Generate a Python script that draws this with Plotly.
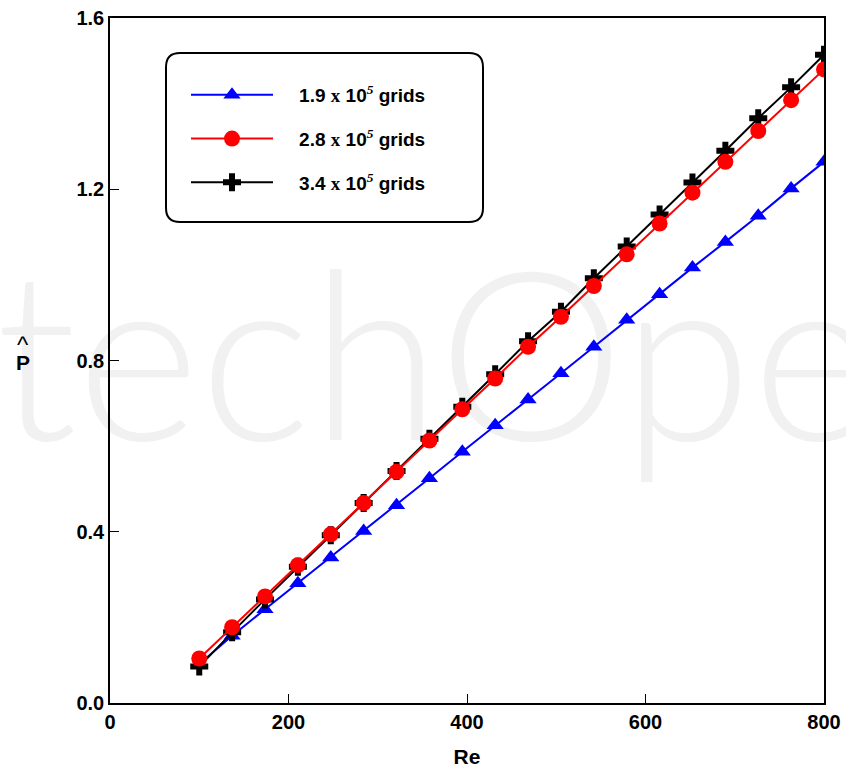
import plotly.graph_objects as go

# ---- data ----
re_vals = [100 + 700 * i / 19 for i in range(20)]
p_19 = [0.091, 0.157, 0.219, 0.280, 0.340, 0.402, 0.462, 0.525, 0.587, 0.649,
        0.709, 0.770, 0.832, 0.895, 0.955, 1.017, 1.077, 1.138, 1.202, 1.264]
p_28 = [0.104, 0.177, 0.249, 0.322, 0.394, 0.467, 0.540, 0.613, 0.686, 0.758,
        0.832, 0.902, 0.974, 1.048, 1.120, 1.192, 1.264, 1.336, 1.408, 1.480]
p_34 = [0.085, 0.165, 0.242, 0.318, 0.392, 0.467, 0.542, 0.617, 0.692, 0.768,
        0.845, 0.914, 0.992, 1.066, 1.141, 1.216, 1.290, 1.366, 1.438, 1.514]
SERIF = "font-family:Liberation Serif"
series_names = [
    f"\u00a0\u00a0\u00a0\u00a01.9 <span style='{SERIF}'>x</span> 10<sup><i style='{SERIF}'>5</i></sup> grids",
    f"\u00a0\u00a0\u00a0\u00a02.8 <span style='{SERIF}'>x</span> 10<sup><i style='{SERIF}'>5</i></sup> grids",
    f"\u00a0\u00a0\u00a0\u00a03.4 <span style='{SERIF}'>x</span> 10<sup><i style='{SERIF}'>5</i></sup> grids",
]
x_ticks = [0, 200, 400, 600, 800]
y_ticks = [0.0, 0.4, 0.8, 1.2, 1.6]

OFF = 0  # body margin removed via post_script
W, H = 846, 771
ML, MT = 110 - OFF, 18 - OFF
MR, MB = W - (824 - OFF), H - (703 - OFF)
PW, PH = W - ML - MR, H - MT - MB


def px(xp):  # page pixel x -> paper
    return (xp - OFF - ML) / PW


def py(yp):  # page pixel y -> paper
    return (MT + PH - (yp - OFF)) / PH


fig = go.Figure()
fig.add_trace(go.Scatter(x=re_vals, y=p_19, mode="lines+markers", name=series_names[0],
                         legendgroup="a", legendrank=1,
                         line=dict(color="#0000ff", width=2),
                         marker=dict(symbol="triangle-up", size=15, color="#0000ff")))
fig.add_trace(go.Scatter(x=re_vals, y=p_34, mode="lines+markers", name=series_names[2],
                         legendgroup="c", legendrank=3,
                         line=dict(color="#000000", width=2),
                         marker=dict(symbol="cross", size=15, color="#000000")))
fig.add_trace(go.Scatter(x=re_vals, y=p_28, mode="lines+markers", name=series_names[1],
                         legendgroup="b", legendrank=2,
                         line=dict(color="#ff0000", width=2),
                         marker=dict(symbol="circle", size=16, color="#ff0000")))

# rounded legend frame (paper coords)
x0, x1 = px(166), px(483)
y1, y0 = py(53), py(222)
rx, ry = 14 / PW, 14 / PH
path = (f"M{x0+rx},{y0} L{x1-rx},{y0} Q{x1},{y0} {x1},{y0+ry} L{x1},{y1-ry} "
        f"Q{x1},{y1} {x1-rx},{y1} L{x0+rx},{y1} Q{x0},{y1} {x0},{y1-ry} "
        f"L{x0},{y0+ry} Q{x0},{y0} {x0+rx},{y0} Z")

shapes = [
    # watermark
    dict(type="rect", xref="paper", yref="paper", x0=px(-10), x1=px(860),
         y0=py(463), y1=py(228),
         line=dict(width=0), fillcolor="rgba(0,0,0,0)", layer="below",
         label=dict(text="techOpen", textposition="middle left",
                    font=dict(family="Lato", size=236, color="#f1f1f1", weight=300))),
    dict(type="path", xref="paper", yref="paper", path=path,
         line=dict(color="black", width=2), fillcolor="white", layer="above"),
]

axis_common = dict(showgrid=False, zeroline=False, showline=True, linecolor="black",
                   linewidth=1.5, mirror=True, ticks="inside", ticklen=9,
                   tickwidth=1, tickcolor="black", automargin=False,
                   ticklabeloverflow="allow",
                   tickfont=dict(family="Liberation Sans", size=20, color="black", weight="bold"))

fig.update_layout(
    width=W, height=H,
    margin=dict(l=ML, r=MR, t=MT, b=MB, autoexpand=False),
    paper_bgcolor="white", plot_bgcolor="rgba(0,0,0,0)",
    showlegend=True,
    legend=dict(x=px(186), y=py(76), xanchor="left", yanchor="top",
                bgcolor="rgba(0,0,0,0)", borderwidth=0, itemwidth=82,
                tracegroupgap=16,
                font=dict(family="Liberation Sans", size=19, color="black", weight="bold")),
    xaxis=dict(range=[0, 800], tickvals=x_ticks, ticktext=[str(v) for v in x_ticks],
               title=dict(text="<b>Re</b>", standoff=18,
                          font=dict(family="Liberation Sans", size=21, color="black")),
               **axis_common),
    yaxis=dict(range=[0, 1.6], tickvals=y_ticks, ticktext=[f"{v:.1f}" for v in y_ticks],
               **axis_common),
    shapes=shapes,
    annotations=[
        dict(xref="paper", yref="paper", x=px(23), y=py(362),
             text="<b>P</b>", showarrow=False, xanchor="center", yanchor="middle",
             font=dict(family="Liberation Sans", size=21, color="black")),
        dict(xref="paper", yref="paper", x=px(23), y=py(345),
             text="^", showarrow=False, xanchor="center", yanchor="middle",
             font=dict(family="Liberation Sans", size=24, color="black")),
    ],
)

fig.write_html(
    "out.html",
    config={"displayModeBar": False},
    post_script="document.body.style.margin='0';document.body.style.overflow='hidden';",
)
